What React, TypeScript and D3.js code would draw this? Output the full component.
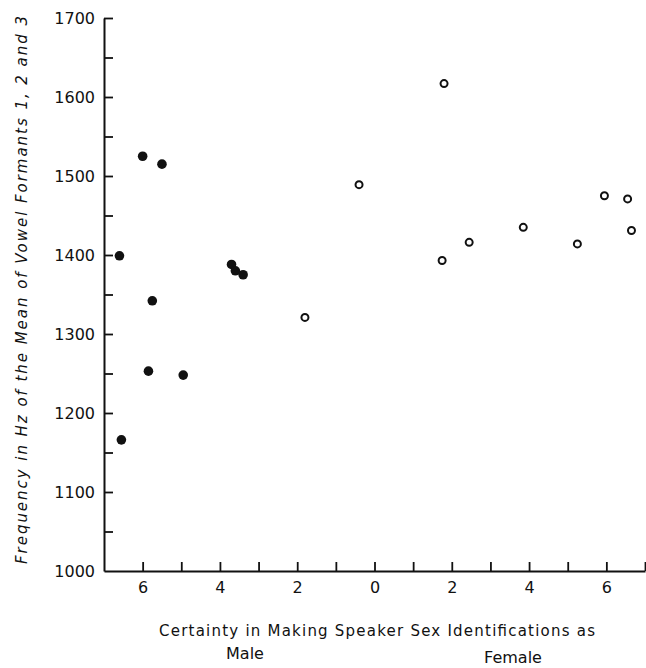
import { useEffect, useRef } from "react";
import * as d3 from "d3";

// signed certainty: negative = identified as male, positive = identified as female
const filledCertainty = [-6.0, -5.5, -6.6, -3.7, -3.6, -3.4, -5.75, -5.85, -4.95, -6.55];
const filledHz = [1525, 1515, 1399, 1388, 1380, 1375, 1342, 1253, 1248, 1166];

const openCertainty = [1.8, -0.4, 5.95, 6.55, 3.85, 2.45, 6.65, 5.25, 1.75, -1.8];
const openHz = [1617, 1489, 1475, 1471, 1435, 1416, 1431, 1414, 1393, 1321];

const xTicks = d3.range(-6, 8);
const yTicks = d3.range(1050, 1701, 50);

const W = 646;
const H = 668;
const FONT = "'DejaVu Sans', sans-serif";

export default function App() {
  const svgRef = useRef<SVGSVGElement>(null);

  useEffect(() => {
    const svg = d3.select(svgRef.current);
    svg.selectAll("*").remove();

    const x = d3.scaleLinear().domain([-7, 7]).range([104, 645]);
    const y = d3.scaleLinear().domain([1000, 1700]).range([571, 18]);

    svg.attr("width", W).attr("height", H);

    // y axis
    const gy = svg
      .append("g")
      .attr("transform", `translate(${x(-7)},0)`)
      .call(
        d3
          .axisLeft(y)
          .tickValues([1000, ...yTicks])
          .tickSizeInner(-9)
          .tickSizeOuter(0)
          .tickPadding(9)
          .tickFormat((d) => (+d % 100 === 0 ? String(d) : "")),
      );
    gy.select(".domain").attr("stroke", "#111").attr("stroke-width", 2);
    gy.selectAll(".tick line")
      .attr("stroke", "#111")
      .attr("stroke-width", 1.8)
      .attr("display", (d) => (d === 1000 ? "none" : null));
    gy.selectAll("text")
      .attr("fill", "#111")
      .attr("font-size", 16)
      .attr("font-family", FONT);

    // x axis
    const gx = svg
      .append("g")
      .attr("transform", `translate(0,${y(1000)})`)
      .call(
        d3
          .axisBottom(x)
          .tickValues(xTicks)
          .tickSizeInner(-9)
          .tickSizeOuter(0)
          .tickPadding(11)
          .tickFormat((d) => (+d % 2 === 0 ? String(Math.abs(+d)) : "")),
      );
    gx.select(".domain").attr("stroke", "#111").attr("stroke-width", 2);
    gx.selectAll(".tick line").attr("stroke", "#111").attr("stroke-width", 1.8);
    gx.selectAll("text")
      .attr("fill", "#111")
      .attr("font-size", 16)
      .attr("font-family", FONT);

    // points
    svg
      .append("g")
      .selectAll("circle")
      .data(d3.range(filledHz.length))
      .join("circle")
      .attr("cx", (i) => x(filledCertainty[i]))
      .attr("cy", (i) => y(filledHz[i]))
      .attr("r", 4.8)
      .attr("fill", "#111");

    svg
      .append("g")
      .selectAll("circle")
      .data(d3.range(openHz.length))
      .join("circle")
      .attr("cx", (i) => x(openCertainty[i]))
      .attr("cy", (i) => y(openHz[i]))
      .attr("r", 3.5)
      .attr("fill", "none")
      .attr("stroke", "#111")
      .attr("stroke-width", 2);

    // axis titles
    svg
      .append("text")
      .attr("x", 377)
      .attr("y", 636)
      .attr("text-anchor", "middle")
      .attr("font-size", 15)
      .attr("font-family", FONT)
      .attr("fill", "#111")
      .attr("textLength", 436)
      .text("Certainty in Making Speaker Sex Identifications as");

    svg
      .append("text")
      .attr("x", 245)
      .attr("y", 659)
      .attr("text-anchor", "middle")
      .attr("font-size", 16)
      .attr("font-family", FONT)
      .attr("fill", "#111")
      .text("Male");

    svg
      .append("text")
      .attr("x", 513)
      .attr("y", 663)
      .attr("text-anchor", "middle")
      .attr("font-size", 16)
      .attr("font-family", FONT)
      .attr("fill", "#111")
      .text("Female");

    svg
      .append("text")
      .attr("transform", "translate(27,290) rotate(-90)")
      .attr("text-anchor", "middle")
      .attr("font-size", 15)
      .attr("font-style", "italic")
      .attr("font-family", FONT)
      .attr("fill", "#111")
      .attr("textLength", 548)
      .text("Frequency in Hz of the Mean of Vowel Formants 1, 2 and 3");
  }, []);

  return (
    <svg
      ref={svgRef}
      style={{ position: "absolute", left: 0, top: 0, background: "#fff" }}
    />
  );
}
